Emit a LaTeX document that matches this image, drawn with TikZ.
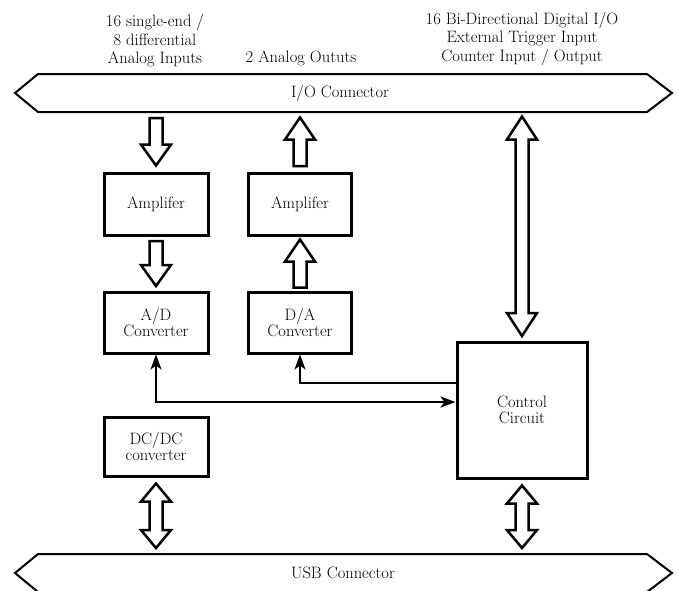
\documentclass[tikz,border=0pt]{standalone}
\usepackage{fontspec}
\usetikzlibrary{arrows.meta,calc}
\newcommand\arrsw{6.5pt}
\newcommand\arrhw{15pt}
% hollow block arrows
\newcommand\hdown[4]{\draw[hollow] let \p1=(#1), \p2=(#2) in
  (\x1-\arrsw,\y1-#4) -- (\x1+\arrsw,\y1-#4) -- (\x1+\arrsw,\y2+#4+#3) -- (\x1+\arrhw,\y2+#4+#3)
  -- (\x1,\y2+#4) -- (\x1-\arrhw,\y2+#4+#3) -- (\x1-\arrsw,\y2+#4+#3) -- cycle;}
\newcommand\hup[4]{\draw[hollow] let \p1=(#1), \p2=(#2) in
  (\x1-\arrsw,\y1+#4) -- (\x1+\arrsw,\y1+#4) -- (\x1+\arrsw,\y2-#4-#3) -- (\x1+\arrhw,\y2-#4-#3)
  -- (\x1,\y2-#4) -- (\x1-\arrhw,\y2-#4-#3) -- (\x1-\arrsw,\y2-#4-#3) -- cycle;}
\newcommand\hboth[4]{\draw[hollow] let \p1=(#1), \p2=(#2) in
  (\x1,\y1-#4) -- (\x1+\arrhw,\y1-#4-#3) -- (\x1+\arrsw,\y1-#4-#3) -- (\x1+\arrsw,\y2+#4+#3)
  -- (\x1+\arrhw,\y2+#4+#3) -- (\x1,\y2+#4) -- (\x1-\arrhw,\y2+#4+#3) -- (\x1-\arrsw,\y2+#4+#3)
  -- (\x1-\arrsw,\y1-#4-#3) -- (\x1-\arrhw,\y1-#4-#3) -- cycle;}
\tikzset{
  box/.style={draw, line width=3pt, align=center, inner sep=0pt},
  bus/.style={draw, line width=2pt, line join=miter},
  hollow/.style={draw, fill=white, line width=2.5pt, line join=miter, miter limit=4},
  conn/.style={line width=2.5pt},
  stl/.tip={Stealth[length=15pt, width=11pt, inset=4pt]},
  lbl/.style={align=center, inner sep=0pt, font=\fontsize{16.5pt}{18.5pt}\selectfont}
}
\begin{document}
\begin{tikzpicture}[x=1pt, y=-1pt, font=\fontsize{16.5pt}{16.5pt}\selectfont]
\useasboundingbox (0,0) rectangle (679,590);
% top labels
\node[lbl] (lin) at (155,40.5) {16 single-end /\\8 differential\\Analog Inputs};
\node[lbl] (lout) at (301,58.5) {2 Analog Oututs};
\node[lbl] (ldig) at (522,38.5) {16 Bi-Directional Digital I/O\\External Trigger Input\\Counter Input / Output};
% I/O connector bus
\draw[bus] (15,93) -- (38,74) -- (647,74) -- (672,93) -- (647,112) -- (38,112) -- cycle;
\node (io) at (340,93) {I/O Connector};
\coordinate (iob) at (343,112);
% USB connector bus
\draw[bus] (15,573) -- (38,554) -- (647,554) -- (672,573) -- (647,592) -- (38,592) -- cycle;
\node (usb) at (343,573) {USB Connector};
\coordinate (usbt) at (343,554);
% boxes
\node[box, minimum width=104pt, minimum height=62pt] (ampL) at (156,204) {Amplifer};
\node[box, minimum width=103pt, minimum height=62pt] (ampR) at (300,204) {Amplifer};
\node[box, minimum width=104pt, minimum height=61pt] (ad) at (156,322.5) {A/D\\Converter};
\node[box, minimum width=103pt, minimum height=61pt] (da) at (300,322.5) {D/A\\Converter};
\node[box, minimum width=104pt, minimum height=59pt] (dcdc) at (156,446.5) {DC/DC\\converter};
\node[box, minimum width=130pt, minimum height=136pt] (ctrl) at (522,410) {Control\\Circuit};
% hollow arrows
\hdown{ampL.north |- iob}{ampL.north}{21pt}{6pt}
\hdown{ampL.south}{ad.north}{21pt}{4.5pt}
\hup{da.north}{ampR.south}{22pt}{3pt}
\hup{ampR.north}{ampR.north |- iob}{22pt}{5.5pt}
\hboth{ctrl.north |- iob}{ctrl.north}{23pt}{4.5pt}
\hboth{dcdc.south}{dcdc.south |- usbt}{18pt}{6pt}
\hboth{ctrl.south}{ctrl.south |- usbt}{18pt}{6pt}
% thin connectors
\draw[conn, stl-stl] (ad.south) |- ($(ctrl.west)+(0,-8)$);
\draw[conn, stl-] (da.south) |- ($(ctrl.west)+(0,-27)$);
\end{tikzpicture}
\end{document}
